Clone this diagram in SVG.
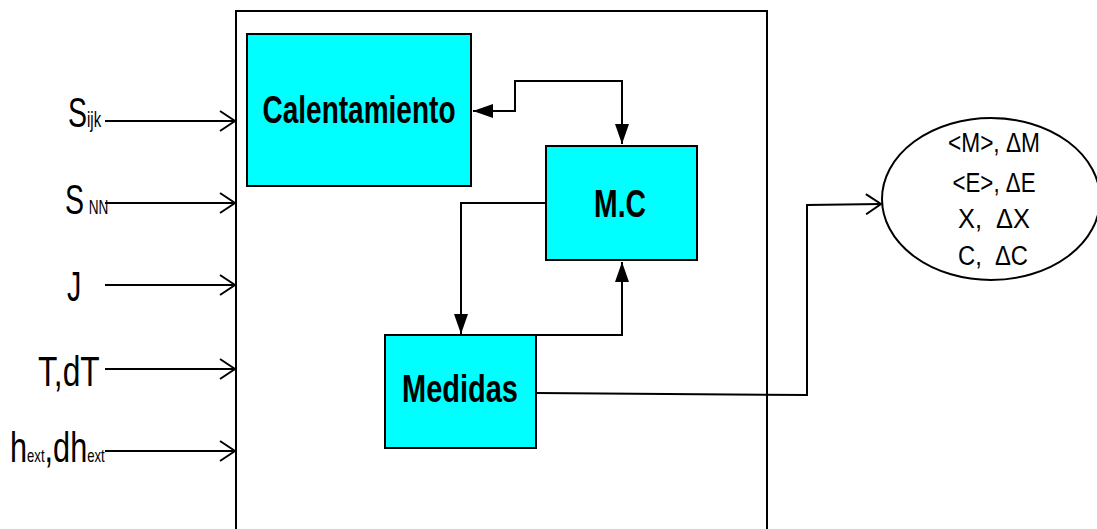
<svg xmlns="http://www.w3.org/2000/svg" width="1097" height="529" viewBox="0 0 1097 529">
<style>
.box{fill:#00FFFF;stroke:#000;stroke-width:2}
.ln{fill:none;stroke:#000;stroke-width:2}
.lbl{font-family:"Liberation Sans Narrow","Liberation Sans",Arial,sans-serif;font-weight:bold;font-size:38px;fill:#000}
.in{font-family:"Liberation Sans",Arial,sans-serif;font-size:42px;fill:#000}
.res{font-family:"Liberation Sans Narrow","Liberation Sans",Arial,sans-serif;font-size:27px;fill:#000;white-space:pre}
</style>
<defs>
<marker id="open" markerUnits="userSpaceOnUse" markerWidth="18" markerHeight="22" viewBox="0 0 18 22" refX="16" refY="11" orient="auto">
<path d="M1,1 L16,11 L1,21" fill="none" stroke="#000" stroke-width="2"/>
</marker>
<marker id="fill" markerUnits="userSpaceOnUse" markerWidth="20" markerHeight="14" viewBox="0 0 20 14" refX="20" refY="7" orient="auto-start-reverse">
<path d="M0,0 L20,7 L0,14 Z" fill="#000"/>
</marker>
</defs>
<g id="frame">
<path class="ln" d="M236,529 L236,11 L767,11 L767,529"/>
</g>
<g id="calentamiento">
<rect class="box" x="247" y="34" width="224" height="152"/>
<text class="lbl" x="359" y="123" text-anchor="middle" textLength="193" lengthAdjust="spacingAndGlyphs">Calentamiento</text>
</g>
<g id="mc">
<rect class="box" x="546" y="146" width="151" height="114"/>
<text class="lbl" x="620" y="217" text-anchor="middle" textLength="52" lengthAdjust="spacingAndGlyphs">M.C</text>
</g>
<g id="medidas">
<rect class="box" x="385" y="335" width="151" height="113"/>
<text class="lbl" x="460" y="402" text-anchor="middle" textLength="116" lengthAdjust="spacingAndGlyphs">Medidas</text>
</g>
<g id="resultados">
<ellipse cx="991" cy="199" rx="109" ry="81" fill="#fff" stroke="#000" stroke-width="2"/>
<text class="res" x="994" y="152" text-anchor="middle" textLength="92" lengthAdjust="spacingAndGlyphs">&lt;M&gt;, ΔM</text>
<text class="res" x="994" y="192" text-anchor="middle" textLength="83" lengthAdjust="spacingAndGlyphs">&lt;E&gt;, ΔE</text>
<text class="res" x="994" y="228" text-anchor="middle" textLength="72" lengthAdjust="spacingAndGlyphs">X,  ΔX</text>
<text class="res" x="993" y="265" text-anchor="middle" textLength="70" lengthAdjust="spacingAndGlyphs">C,  ΔC</text>
</g>
<g id="inputs">
<text class="in" transform="translate(68,127) scale(0.68,1)">S<tspan font-size="22">ijk</tspan></text>
<text class="in" transform="translate(65,214) scale(0.68,1)">S<tspan font-size="20" dx="7">NN</tspan></text>
<text class="in" transform="translate(67,301) scale(0.68,1)">J</text>
<text class="in" transform="translate(38,386) scale(0.755,1)">T,dT</text>
<text class="in" transform="translate(10,462) scale(0.73,1)">h<tspan font-size="18">ext</tspan>,dh<tspan font-size="18">ext</tspan></text>
</g>
<g id="connectors">
<path class="ln" d="M105,121 L235,121" marker-end="url(#open)"/>
<path class="ln" d="M105,203 L235,203" marker-end="url(#open)"/>
<path class="ln" d="M105,285 L235,285" marker-end="url(#open)"/>
<path class="ln" d="M105,369 L235,369" marker-end="url(#open)"/>
<path class="ln" d="M105,451 L235,451" marker-end="url(#open)"/>
<path class="ln" d="M622,144 L622,81 L515,81 L515,111 L473,111" marker-start="url(#fill)" marker-end="url(#fill)"/>
<path class="ln" d="M546,203 L461,203 L461,334" marker-end="url(#fill)"/>
<path class="ln" d="M536,335 L622,335 L622,262" marker-end="url(#fill)"/>
<path class="ln" d="M537,393 L807,395 L807,205 L881,204" marker-end="url(#open)"/>
</g>
</svg>
